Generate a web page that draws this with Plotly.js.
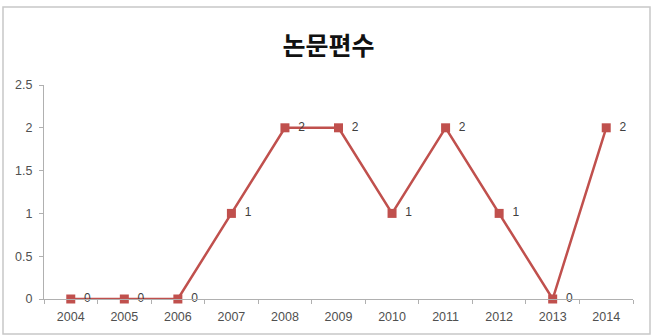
<!DOCTYPE html>
<html><head><meta charset="utf-8">
<script src="https://cdn.plot.ly/plotly-3.0.1.min.js"></script>
<style>html,body{margin:0;padding:0;background:#fff;}#chart{width:657px;height:335px;}</style>
</head><body><div id="chart"></div>
<script>
const years = ["2004","2005","2006","2007","2008","2009","2010","2011","2012","2013","2014"];
const papers = [0,0,0,1,2,2,1,2,1,0,2];
const titleText = "논문편수";
const yTicks = [0,0.5,1,1.5,2,2.5];
const yTickLabels = ["0","0.5","1","1.5","2","2.5"];

const tickFont = {family: "Liberation Sans, Arial, sans-serif", size: 12.5, color: "#505050"};
const trace = {
  x: years, y: papers, type: "scatter", mode: "lines+markers+text",
  line: {color: "#c0504d", width: 2.5},
  marker: {symbol: "square", size: 9, color: "#c0504d"},
  text: papers.map(v => "  " + v), textposition: "middle right",
  textfont: {family: "Liberation Sans, Arial, sans-serif", size: 12, color: "#404040"},
  cliponaxis: false, hoverinfo: "none"
};
const W = 589, H = 214;
const layout = {
  width: 657, height: 335,
  margin: {l: 44, r: 24, t: 85, b: 36},
  paper_bgcolor: "#fff", plot_bgcolor: "#fff",
  showlegend: false,
  title: {text: "<b>" + titleText + "</b>", x: 0.5, xanchor: "center", y: 1 - 46/335, yanchor: "middle",
    font: {family: "Noto Sans CJK KR, sans-serif", size: 25, color: "#111"}},
  xaxis: {type: "category", range: [-0.5, 10.5], showgrid: false, zeroline: false,
    showline: true, linecolor: "#b0b0b0", linewidth: 1, ticks: "outside", ticklen: 4, tickcolor: "#b0b0b0",
    tickson: "boundaries", ticklabelstandoff: 6, tickfont: tickFont},
  yaxis: {range: [0, 2.5], tickvals: yTicks, ticktext: yTickLabels, showgrid: false, zeroline: false,
    showline: true, linecolor: "#b0b0b0", linewidth: 1, ticks: "outside", ticklen: 4, tickcolor: "#b0b0b0",
    ticklabelstandoff: 4, tickfont: tickFont},
  shapes: [{type: "rect", xref: "paper", yref: "paper",
    x0: (3-44)/W, x1: (650-44)/W, y0: (299-334)/H, y1: (299-7)/H,
    line: {color: "#c8c8c8", width: 1.5}, fillcolor: "rgba(0,0,0,0)"}]
};
Plotly.newPlot("chart", [trace], layout, {displayModeBar: false, staticPlot: true});
</script></body></html>
